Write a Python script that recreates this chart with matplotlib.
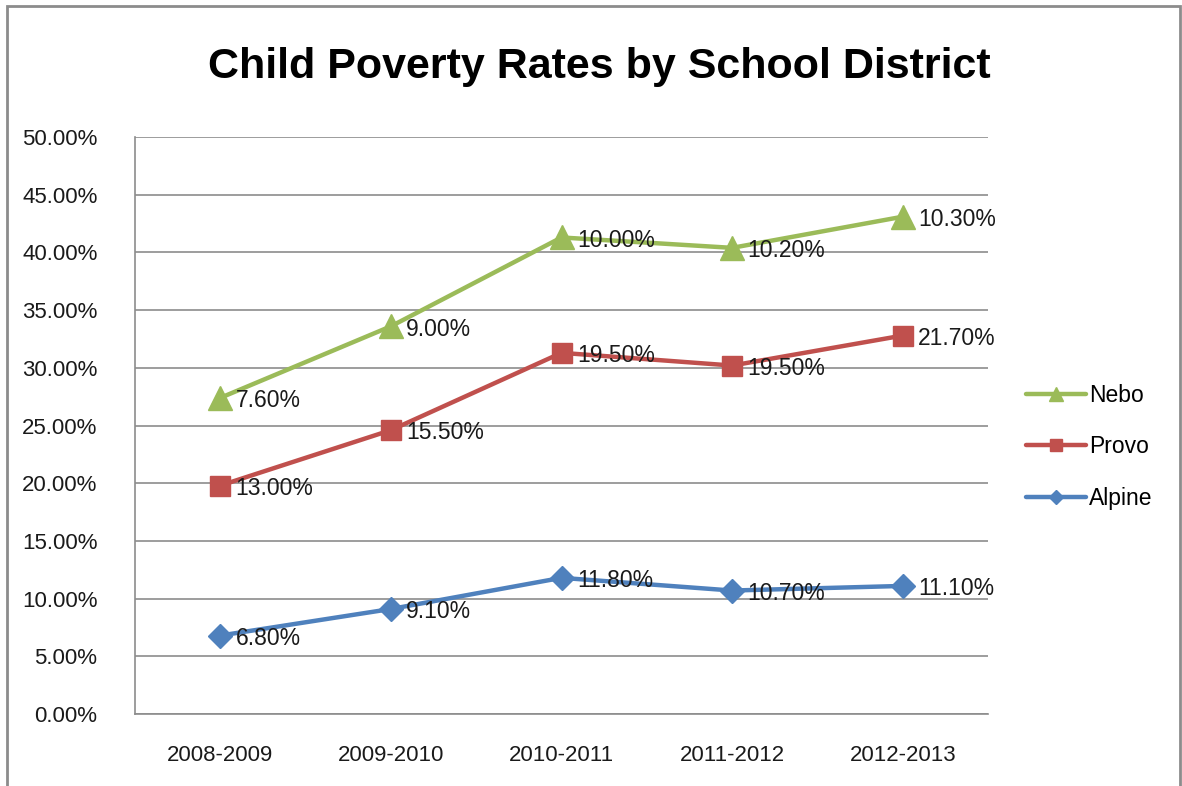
import matplotlib.pyplot as plt
from matplotlib.patches import Rectangle
from matplotlib.ticker import FuncFormatter, MultipleLocator

# Data (stacked line chart, labels show each district's own rate)
years = ["2008-2009", "2009-2010", "2010-2011", "2011-2012", "2012-2013"]
alpine = [6.8, 9.1, 11.8, 10.7, 11.1]
provo = [13.0, 15.5, 19.5, 19.5, 21.7]
nebo = [7.6, 9.0, 10.0, 10.2, 10.3]

plt.rcParams["font.family"] = ["Liberation Sans", "DejaVu Sans"]

fig = plt.figure(figsize=(11.82, 7.86), dpi=100)
ax = fig.add_axes([0.1142, 0.0916, 0.7217, 0.734])

# Outer chart border
fig.patches.append(Rectangle((0.006, -0.01), 0.992, 1.002, transform=fig.transFigure,
                             fill=False, edgecolor="#8c8c8c", linewidth=2))

x = list(range(len(years)))
provo_cum = [a + p for a, p in zip(alpine, provo)]
nebo_cum = [c + n for c, n in zip(provo_cum, nebo)]

series = [
    ("Nebo", nebo_cum, nebo, "#9BBB59", "^", 17),
    ("Provo", provo_cum, provo, "#C0504D", "s", 14),
    ("Alpine", alpine, alpine, "#4F81BD", "D", 12),
]

for name, ys, labels, color, marker, ms in series:
    ax.plot(x, ys, color=color, linewidth=3.2, marker=marker, markersize=ms,
            label=name, solid_capstyle="round", zorder=3)
    for xi, yi, lab in zip(x, ys, labels):
        ax.annotate(f"{lab:.2f}%", (xi, yi), xytext=(11, -2), textcoords="offset points",
                    ha="left", va="center", fontsize=16.5, color="#1a1a1a", zorder=4)

ax.set_xlim(-0.5, len(years) - 0.5)
ax.set_ylim(0, 50)
ax.yaxis.set_major_locator(MultipleLocator(5))
ax.yaxis.set_major_formatter(FuncFormatter(lambda v, _: f"{v:.2f}%"))
ax.set_xticks(x)
ax.set_xticklabels(years)
ax.grid(axis="y", color="#8c8c8c", linewidth=1.2, zorder=0)
ax.set_axisbelow(True)
for side in ["top", "right"]:
    ax.spines[side].set_visible(False)
for side in ["left", "bottom"]:
    ax.spines[side].set_color("#8c8c8c")
    ax.spines[side].set_linewidth(1.2)
ax.tick_params(axis="both", length=0, labelsize=16, colors="#1a1a1a")
ax.tick_params(axis="y", pad=27)
ax.tick_params(axis="x", pad=22)

fig.text(0.507, 0.915, "Child Poverty Rates by School District", ha="center", va="center",
         fontsize=31, fontweight="bold", color="black")

ax.legend(loc="center left", bbox_to_anchor=(1.045, 0.463), frameon=False, fontsize=16.5,
          handlelength=2.6, labelspacing=1.25, handletextpad=0.15, markerscale=0.6,
          borderpad=0, borderaxespad=0)

fig.savefig("out.png", dpi=100)
